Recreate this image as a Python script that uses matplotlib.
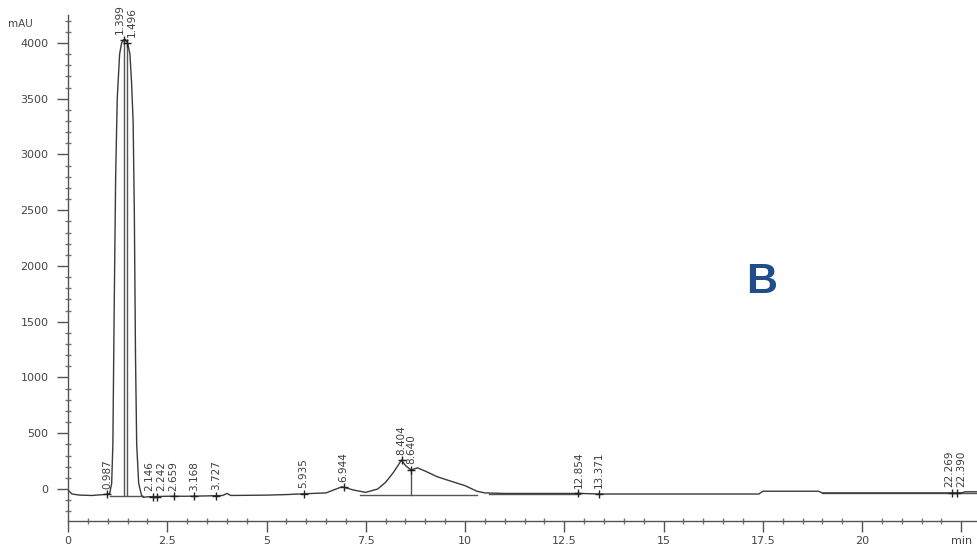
import numpy as np
import matplotlib
matplotlib.use("Agg")
import matplotlib.pyplot as plt
from matplotlib.ticker import MultipleLocator, FixedLocator

# ---- data ----
trace_time = [0.0, 0.1, 0.3, 0.6, 0.9, 1.0, 1.05, 1.1, 1.13, 1.16, 1.2, 1.24, 1.3, 1.35,
              1.4, 1.45, 1.5, 1.56, 1.6, 1.64, 1.67, 1.7, 1.73, 1.78, 1.85, 1.9, 2.0,
              2.5, 3.0, 3.5, 3.9, 4.0, 4.1, 5.0, 5.5, 6.0, 6.5, 6.9, 7.2, 7.5, 7.8,
              8.0, 8.2, 8.4, 8.5, 8.64, 8.8, 9.0, 9.3, 9.6, 10.0, 10.3, 10.5, 11.0,
              12.0, 12.9, 13.4, 15.0, 17.4, 17.5, 18.9, 19.0, 22.5, 22.6, 22.92]
trace_mau = [-10, -45, -55, -58, -50, -45, -40, 50, 400, 1500, 2800, 3500, 3900, 4000,
             4030, 4030, 4000, 3900, 3650, 3300, 2500, 1200, 400, 50, -55, -75, -70,
             -65, -65, -62, -58, -40, -58, -55, -50, -42, -35, 20, -10, -30, 0,
             60, 150, 260, 210, 170, 190, 160, 110, 75, 30, -20, -35, -40,
             -40, -40, -45, -45, -45, -20, -20, -35, -35, -25, -25]

peak_times = [0.987, 1.399, 1.496, 2.146, 2.242, 2.659, 3.168, 3.727, 5.935, 6.944,
              8.404, 8.640, 12.854, 13.371, 22.269, 22.390]
peak_labels = ["0.987", "1.399", "1.496", "2.146", "2.242", "2.659", "3.168", "3.727",
               "5.935", "6.944", "8.404", "8.640", "12.854", "13.371", "22.269", "22.390"]

baseline_start = [1.05, 7.35, 10.6, 19.0]
baseline_end = [1.88, 10.3, 12.9, 22.9]
baseline_level = [-60, -55, -45, -38]

drop_times = [1.399, 1.496, 8.640]

x_tick_values = [0, 2.5, 5, 7.5, 10, 12.5, 15, 17.5, 20, 22.5]
x_tick_labels = ["0", "2.5", "5", "7.5", "10", "12.5", "15", "17.5", "20", "min"]
y_tick_values = [0, 500, 1000, 1500, 2000, 2500, 3000, 3500, 4000]

# ---- figure ----
W, H = 978, 546
fig = plt.figure(figsize=(W / 100, H / 100), dpi=100)
ax = fig.add_axes([68 / W, 25 / H, 1 - 68 / W, (521 - 15) / H])
ax.set_xlim(0, 22.92)
ax.set_ylim(-287, 4251)

line_col = "#3a3a3a"
ax.plot(trace_time, trace_mau, color=line_col, lw=1.0, zorder=3)

for s, e, lv in zip(baseline_start, baseline_end, baseline_level):
    ax.plot([s, e], [lv, lv], color="#555555", lw=1.0, zorder=2)

for t in drop_times:
    top = np.interp(t, trace_time, trace_mau)
    ax.plot([t, t], [-55, top], color="#555555", lw=1.0, zorder=2)

# small horizontal nudges (points) so that neighbouring labels stay readable
nudge = {"1.399": -3, "1.496": 3, "2.146": -3, "2.242": 3, "22.269": -2, "22.390": 3}
for t, lab in zip(peak_times, peak_labels):
    yv = np.interp(t, trace_time, trace_mau)
    ax.plot([t], [yv], marker="+", color="#222222", ms=6, mew=1.0, zorder=4,
            clip_on=False)
    ax.annotate(lab, xy=(t, yv), xytext=(nudge.get(lab, 0), 4),
                textcoords="offset points", rotation=90, ha="center", va="bottom",
                fontsize=7.5, color="#3c3c3c", annotation_clip=False)

# axes styling
for sp in ["top", "right"]:
    ax.spines[sp].set_visible(False)
for sp in ["left", "bottom"]:
    ax.spines[sp].set_color("#555555")
    ax.spines[sp].set_linewidth(1.0)

ax.xaxis.set_major_locator(FixedLocator(x_tick_values))
ax.set_xticklabels(x_tick_labels)
ax.xaxis.set_minor_locator(MultipleLocator(0.5))
ax.yaxis.set_major_locator(FixedLocator(y_tick_values))
ax.yaxis.set_minor_locator(MultipleLocator(100))

ax.tick_params(axis="both", which="major", length=8, width=1, color="#555555",
               labelsize=8, labelcolor="#444444", direction="out")
ax.tick_params(axis="both", which="minor", length=4, width=1, color="#777777",
               direction="inout")
ax.tick_params(axis="x", pad=3)
ax.tick_params(axis="y", pad=6)

fig.text(8 / W, 1 - 24 / H, "mAU", fontsize=7.5, color="#444444", ha="left",
         va="center")

fig.text(762 / W, 1 - 282 / H, "B", fontsize=31, fontweight="bold",
         color="#1f4e8a", ha="center", va="center", family="Liberation Sans")

fig.savefig("out.png", dpi=100)
